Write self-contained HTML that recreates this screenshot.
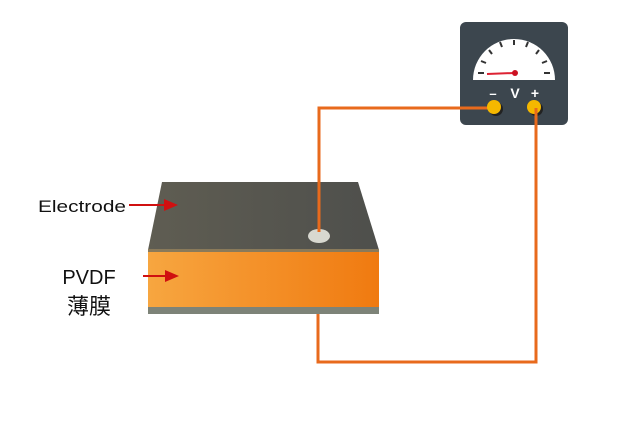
<!DOCTYPE html>
<html><head><meta charset="utf-8"><style>
body{margin:0;background:#fff;width:640px;height:432px;overflow:hidden;font-family:"Liberation Sans","Noto Sans CJK SC",sans-serif}
</style></head><body>
<svg width="640" height="432" viewBox="0 0 640 432" xmlns="http://www.w3.org/2000/svg">
<defs>
<linearGradient id="top" x1="0" x2="1"><stop offset="0" stop-color="#5f5d52"/><stop offset="1" stop-color="#4e4f4c"/></linearGradient>
<linearGradient id="or" x1="0" x2="1"><stop offset="0" stop-color="#f7a640"/><stop offset="1" stop-color="#f07a10"/></linearGradient>
</defs>
<polygon points="162,182 358,182 379,250 148,250" fill="url(#top)"/>
<rect x="148" y="249" width="231" height="3" fill="#8a7a5a"/>
<rect x="148" y="252" width="231" height="55" fill="url(#or)"/>
<rect x="148" y="307" width="231" height="7" fill="#7d8378"/>
<ellipse cx="319" cy="236" rx="11" ry="7" fill="#d8d8d0"/>
<polyline points="319,232 319,108 494,108" fill="none" stroke="#e86a1c" stroke-width="3"/>
<polyline points="318,314 318,362 536,362 536,108" fill="none" stroke="#e86a1c" stroke-width="3"/>
<rect x="460" y="22" width="108" height="103" rx="6" fill="#3c464e"/>
<path d="M473,80 A41,41 0 0 1 555,80 Z" fill="#fff"/>
<g stroke="#333" stroke-width="2">
<line x1="478" y1="73" x2="484" y2="73"/><line x1="550" y1="73" x2="544" y2="73"/>
<line x1="481" y1="61" x2="486" y2="63"/><line x1="547" y1="61" x2="542" y2="63"/>
<line x1="489" y1="50" x2="492" y2="54"/><line x1="539" y1="50" x2="536" y2="54"/>
<line x1="500" y1="42" x2="502" y2="47"/><line x1="528" y1="42" x2="526" y2="47"/>
<line x1="514" y1="40" x2="514" y2="45"/>
</g>
<line x1="487" y1="74" x2="514" y2="73" stroke="#d23" stroke-width="2"/>
<circle cx="515" cy="73" r="3" fill="#c12"/>
<text x="493" y="98" fill="#fff" font-size="13" font-weight="bold" text-anchor="middle">–</text>
<text x="515" y="98" fill="#fff" font-size="14" font-weight="bold" text-anchor="middle">V</text>
<text x="535" y="98" fill="#fff" font-size="14" font-weight="bold" text-anchor="middle">+</text>
<line x1="460" y1="108" x2="488" y2="108" stroke="#e86a1c" stroke-width="3"/>
<circle cx="496" cy="109" r="7" fill="#222"/><circle cx="494" cy="107" r="7" fill="#f5b800"/>
<circle cx="536" cy="109" r="7" fill="#222"/><circle cx="534" cy="107" r="7" fill="#f5b800"/>
<line x1="536" y1="108" x2="536" y2="125" stroke="#e86a1c" stroke-width="3"/>
<text x="38" y="212" font-size="17" fill="#111" textLength="88" lengthAdjust="spacingAndGlyphs">Electrode</text>
<line x1="129" y1="205" x2="168" y2="205" stroke="#d01010" stroke-width="2"/>
<polygon points="178,205 164,199 164,211" fill="#d01010"/>
<text x="89" y="284" font-size="20" fill="#111" text-anchor="middle">PVDF</text>
<text x="89" y="314" font-size="22" fill="#111" text-anchor="middle">薄膜</text>
<line x1="143" y1="276" x2="168" y2="276" stroke="#d01010" stroke-width="2"/>
<polygon points="179,276 165,270 165,282" fill="#d01010"/>
</svg>
</body></html>
